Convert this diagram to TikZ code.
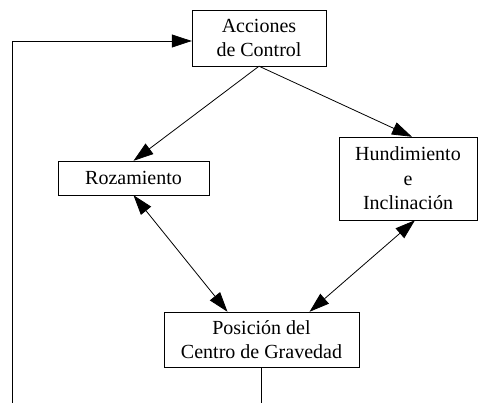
\documentclass[tikz,border=0pt]{standalone}
\usepackage{fontspec}
\setmainfont{Liberation Serif}
\usetikzlibrary{arrows.meta,calc}
\tikzset{every picture/.style={x=1pt,y=-1pt}}
\tikzset{box/.style={draw,rectangle,inner sep=0pt,align=center,font=\fontsize{20}{24.5}\selectfont}}
\tikzset{edge/.style={-{Triangle[length=20pt,width=13pt]},line width=0.8pt}}
\tikzset{both/.style={{Triangle[length=20pt,width=13pt]}-{Triangle[length=20pt,width=13pt]},line width=0.8pt}}

\begin{document}
\begin{tikzpicture}
\useasboundingbox (0,0) rectangle (479,403);

\node [box,minimum width=134pt,minimum height=56pt] (acc) at (259,38) {Acciones\\de Control};
\node [box,minimum width=151pt,minimum height=34pt] (roz) at (133.5,178) {Rozamiento};
\node [box,minimum width=138pt,minimum height=83pt] (hun) at (408,178.5) {Hundimiento\\e\\Inclinación};
\node [box,minimum width=195pt,minimum height=55pt] (pos) at (261.5,339.5) {Posición del\\Centro de Gravedad};

\coordinate (fb) at (12,403);
\coordinate (out) at (pos.south |- fb);

\draw [edge] (acc.south) -- (roz.north);
\draw [edge] (acc.south) -- ($(hun.north)+(4,0)$);

\draw [both] (roz.south) -- ($(pos.north)+(-34,0)$);
\draw [both] ($(hun.south)+(7,0)$) -- ($(pos.north)+(48,0)$);

\draw [line width=0.8pt] (pos.south) -- (out);
\draw [edge] (fb) |- ($(acc.west)+(0,3)$);
\end{tikzpicture}
\end{document}
